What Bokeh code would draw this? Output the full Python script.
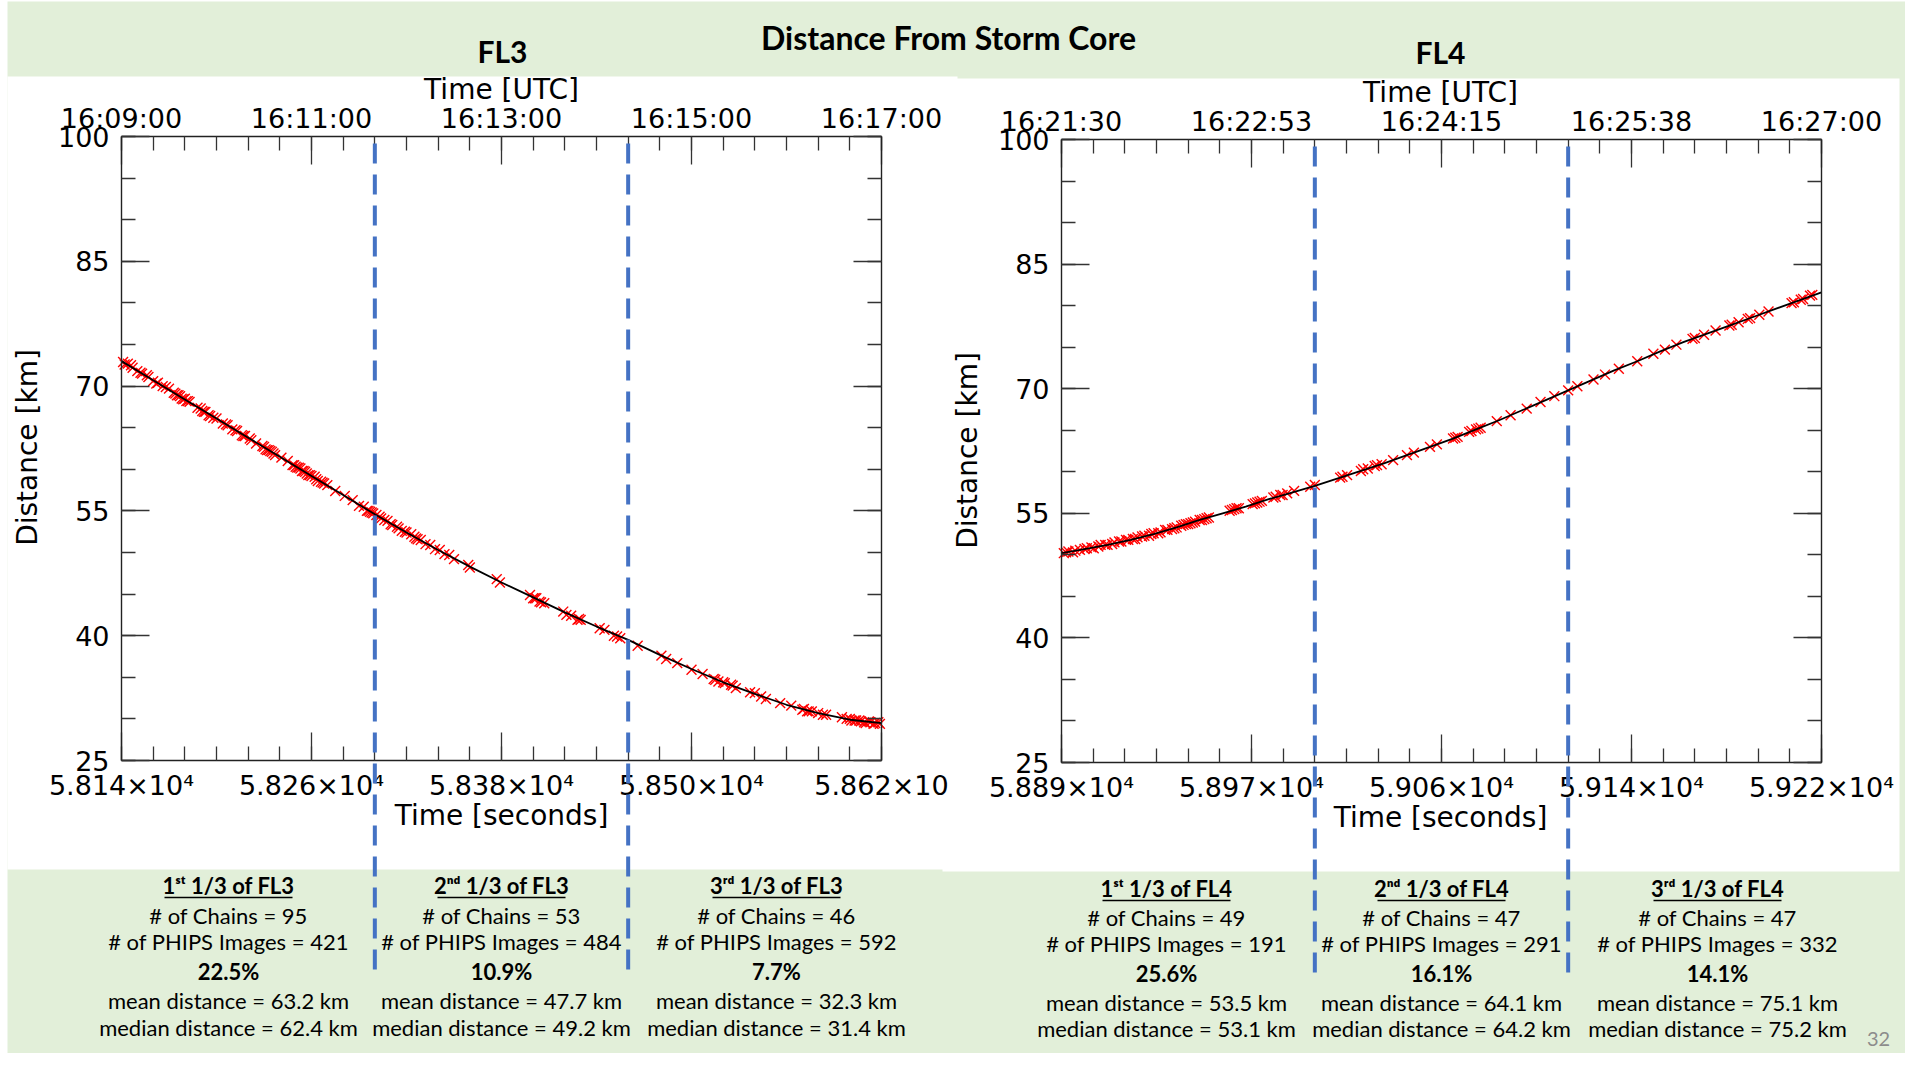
import numpy as np
from bokeh.plotting import figure
from bokeh.models import Range1d, LinearAxis, FixedTicker, CustomJSTickFormatter
from bokeh.core.properties import value
from bokeh.embed import file_html
from bokeh.resources import INLINE

# ------------------------------------------------------------------ data
# FL3 : distance from storm core, red markers (time [s], distance [km])
FL3_MARK_T = [58141, 58144, 58147, 58150, 58153, 58157, 58160, 58163, 58166, 58170,
              58173, 58175, 58177, 58179, 58181, 58183, 58188, 58191, 58193, 58195,
              58198, 58200, 58204, 58207, 58210, 58213, 58216, 58218, 58221, 58225,
              58229, 58231, 58233, 58235, 58237, 58241, 58245, 58248, 58250, 58252,
              58254, 58256, 58258, 58260, 58262, 58264, 58266, 58268, 58270, 58275,
              58281, 58286, 58290, 58293, 58295, 58297, 58299,
              58142, 58146, 58152, 58156, 58162, 58168, 58174, 58176, 58178, 58180,
              58182, 58190, 58192, 58196, 58206, 58212, 58217, 58222, 58230, 58232,
              58234, 58236, 58249, 58251, 58253, 58255, 58257, 58259, 58263, 58267,
              58296, 58298,
              58301, 58304, 58308, 58311, 58314, 58317, 58320, 58323, 58326, 58329,
              58332, 58335, 58338, 58341, 58344, 58347, 58350, 58359, 58360, 58377,
              58379, 58398, 58400, 58402, 58405, 58407, 58419, 58421, 58424, 58428,
              58430, 58442, 58445, 58451, 58453, 58455,
              58303, 58306, 58310, 58315, 58319, 58325, 58327, 58401, 58404, 58429,
              58466, 58481, 58484, 58491, 58500, 58507, 58514, 58517, 58521, 58525,
              58528, 58537, 58540, 58544, 58547, 58556, 58563, 58570, 58573, 58576,
              58580, 58583, 58585, 58595, 58598, 58601, 58604, 58607, 58610, 58613,
              58616, 58619,
              58515, 58520, 58526, 58571, 58574, 58600, 58603, 58606, 58609, 58612,
              58615, 58618]
FL3_MARK_D = [72.9, 72.7, 72.2, 71.8, 71.5, 71.1, 70.6, 70.4, 70.0, 69.7,
              69.2, 68.9, 68.8, 68.4, 68.2, 68.1, 67.4, 67.0, 66.9, 66.5,
              66.2, 66.1, 65.5, 65.3, 64.8, 64.6, 64.1, 64.0, 63.7, 63.1,
              62.8, 62.4, 62.3, 62.1, 61.7, 61.4, 61.0, 60.5, 60.3, 60.2,
              59.8, 59.7, 59.3, 59.2, 59.1, 58.6, 58.5, 58.3, 58.1, 57.4,
              56.8, 56.3, 55.6, 55.5, 55.0, 54.9, 54.7,
              72.6, 72.5, 71.6, 71.3, 70.3, 69.9, 69.1, 68.9, 68.5, 68.5,
              68.2, 67.3, 66.9, 66.4, 65.4, 64.7, 64.0, 63.5, 62.7, 62.3,
              62.2, 61.9, 60.5, 60.2, 60.1, 59.8, 59.5, 59.3, 58.8, 58.4,
              55.0, 54.8,
              54.5, 54.1, 53.8, 53.3, 53.1, 52.6, 52.4, 52.2, 51.7, 51.5,
              51.0, 50.9, 50.4, 50.3, 49.8, 49.7, 49.2, 48.5, 48.2, 46.8,
              46.4, 44.9, 44.5, 44.5, 44.0, 43.9, 42.9, 42.5, 42.4, 41.9,
              41.9, 40.9, 40.7, 40.0, 39.9, 39.7,
              54.3, 53.9, 53.4, 52.9, 52.5, 51.9, 51.6, 44.5, 44.1, 42.0,
              38.8, 37.6, 37.2, 36.7, 35.9, 35.4, 34.8, 34.5, 34.3, 34.1,
              33.7, 33.2, 33.1, 32.7, 32.4, 31.9, 31.6, 31.1, 30.9, 30.9,
              30.7, 30.5, 30.5, 30.2, 30.0, 29.8, 29.8, 29.7, 29.5, 29.6,
              29.5, 29.4,
              34.7, 34.4, 34.0, 31.2, 30.9, 30.0, 29.8, 29.8, 29.6, 29.7,
              29.4, 29.6]
# FL3 : fitted black curve
FL3_LINE_T = [58140, 58160, 58180, 58200, 58220, 58240, 58260, 58280, 58300, 58320,
              58340, 58360, 58380, 58400, 58420, 58440, 58460, 58480, 58500, 58520,
              58540, 58560, 58580, 58600, 58620]
FL3_LINE_D = [73.0, 70.7, 68.4, 66.1, 63.8, 61.5, 59.2, 56.9, 54.6, 52.4,
              50.3, 48.3, 46.4, 44.6, 42.8, 41.1, 39.5, 37.7, 36.0, 34.4,
              33.0, 31.7, 30.7, 29.9, 29.5]
FL3_SPLITS = [58300, 58460]
FL3_X_TICKS = [58140, 58260, 58380, 58500, 58620]
FL3_BOTTOM_LABELS = ["5.814×10⁴", "5.826×10⁴", "5.838×10⁴", "5.850×10⁴", "5.862×10"]
FL3_TOP_LABELS = ["16:09:00", "16:11:00", "16:13:00", "16:15:00", "16:17:00"]

# FL4
FL4_MARK_T = [58891, 58893, 58895, 58898, 58901, 58904, 58907, 58910, 58913, 58916,
              58918, 58921, 58923, 58925, 58928, 58930, 58933, 58935, 58938, 58940,
              58942, 58944, 58946, 58948, 58950, 58952, 58954, 58963, 58965, 58967,
              58973, 58975, 58977, 58982, 58985, 58988, 58991, 58998, 59000, 59011,
              59014, 59020, 59023, 59026, 59029, 59034, 59040, 59043, 59050, 59053,
              59060, 59062, 59067, 59070, 59072, 59079, 59085, 59092, 59098, 59104,
              59110, 59114, 59121, 59126, 59132, 59140, 59147, 59152, 59157, 59164,
              59169, 59174, 59180, 59184, 59188, 59193, 59197, 59207, 59211, 59216,
              58892, 58896, 58900, 58903, 58906, 58909, 58912, 58915, 58919, 58922,
              58926, 58929, 58932, 58936, 58939, 58943, 58945, 58947, 58951, 58953,
              58964, 58966, 58974, 58976, 58983, 58986, 59012, 59021, 59027, 59061,
              59068, 59071, 59165, 59181, 59189, 59208, 59212, 59215]
FL4_MARK_D = [50.2, 50.4, 50.3, 50.6, 50.8, 50.8, 51.2, 51.2, 51.5, 51.6,
              51.8, 51.9, 52.1, 52.2, 52.3, 52.6, 52.7, 53.0, 53.1, 53.3,
              53.5, 53.7, 53.8, 54.0, 54.2, 54.3, 54.5, 55.3, 55.5, 55.6,
              56.1, 56.3, 56.5, 56.9, 57.2, 57.4, 57.7, 58.2, 58.4, 59.3,
              59.6, 60.1, 60.4, 60.7, 60.9, 61.4, 62.0, 62.3, 63.0, 63.3,
              64.0, 64.2, 64.8, 65.1, 65.3, 66.1, 66.8, 67.6, 68.4, 69.1,
              69.8, 70.3, 71.1, 71.7, 72.4, 73.3, 74.2, 74.7, 75.3, 76.0,
              76.5, 77.0, 77.6, 78.0, 78.4, 78.9, 79.3, 80.3, 80.7, 81.3,
              50.3, 50.5, 50.7, 50.9, 51.0, 51.2, 51.3, 51.6, 51.8, 51.9,
              52.3, 52.5, 52.6, 53.0, 53.2, 53.6, 53.7, 53.9, 54.2, 54.4,
              55.4, 55.6, 56.2, 56.4, 57.0, 57.2, 59.4, 60.3, 60.8, 64.1,
              64.9, 65.2, 76.1, 77.7, 78.5, 80.4, 80.8, 81.2]
FL4_LINE_T = [58890, 58900, 58910, 58920, 58930, 58940, 58950, 58960, 58970, 58980,
              58990, 59000, 59010, 59020, 59030, 59040, 59050, 59060, 59070, 59080,
              59090, 59100, 59110, 59120, 59130, 59140, 59150, 59160, 59170, 59180,
              59190, 59200, 59210, 59220]
FL4_LINE_D = [50.2, 50.7, 51.2, 51.8, 52.5, 53.3, 54.2, 55.0, 55.8, 56.7,
              57.5, 58.3, 59.2, 60.1, 61.0, 62.0, 63.0, 64.0, 65.1, 66.2,
              67.4, 68.6, 69.8, 71.0, 72.2, 73.3, 74.5, 75.6, 76.6, 77.6,
              78.6, 79.6, 80.6, 81.6]
FL4_SPLITS = [59000, 59110]
FL4_X_TICKS = [58890, 58972.5, 59055, 59137.5, 59220]
FL4_BOTTOM_LABELS = ["5.889×10⁴", "5.897×10⁴", "5.906×10⁴", "5.914×10⁴", "5.922×10⁴"]
FL4_TOP_LABELS = ["16:21:30", "16:22:53", "16:24:15", "16:25:38", "16:27:00"]

Y_TICKS = [25, 40, 55, 70, 85, 100]
Y_LABELS = ["25", "40", "55", "70", "85", "100"]

# footer statistics
FL3_HEADINGS = ["1ˢᵗ 1/3 of FL3", "2ⁿᵈ 1/3 of FL3", "3ʳᵈ 1/3 of FL3"]
FL3_CHAINS = [95, 53, 46]
FL3_IMAGES = [421, 484, 592]
FL3_PCT = ["22.5", "10.9", "7.7"]
FL3_MEAN = ["63.2", "47.7", "32.3"]
FL3_MEDIAN = ["62.4", "49.2", "31.4"]
FL4_HEADINGS = ["1ˢᵗ 1/3 of FL4", "2ⁿᵈ 1/3 of FL4", "3ʳᵈ 1/3 of FL4"]
FL4_CHAINS = [49, 47, 47]
FL4_IMAGES = [191, 291, 332]
FL4_PCT = ["25.6", "16.1", "14.1"]
FL4_MEAN = ["53.5", "64.1", "75.1"]
FL4_MEDIAN = ["53.1", "64.2", "75.2"]

# ------------------------------------------------------------------ layout
W, H = 1905, 1053
PX0, PX1 = 0, W          # reference pixel span of the canvas
PY0, PY1 = 0, H
GREEN = "#E2EFD9"
BLUE = "#4472C4"
PLOT_FONT = "DejaVu Sans"
SLIDE_FONT = "Lato"


def lin(d0, p0, d1, p1, pa, pb):
    s = (d1 - d0) / (p1 - p0)
    return d0 + (pa - p0) * s, d0 + (pb - p0) * s


# frame pixel boxes of the two plots (reference coordinates)
FL3_BOX = dict(l=121, r=881, t=136, b=760)
FL4_BOX = dict(l=1061, r=1821, t=139, b=762)
FL3_XLIM = (58140, 58620)
FL4_XLIM = (58890, 59220)
YLIM = (25, 100)

x3 = Range1d(*lin(FL3_XLIM[0], FL3_BOX["l"], FL3_XLIM[1], FL3_BOX["r"], PX0, PX1))
y3 = Range1d(*lin(YLIM[1], FL3_BOX["t"], YLIM[0], FL3_BOX["b"], PY1, PY0))
x4 = Range1d(*lin(FL4_XLIM[0], FL4_BOX["l"], FL4_XLIM[1], FL4_BOX["r"], PX0, PX1))
y4 = Range1d(*lin(YLIM[1], FL4_BOX["t"], YLIM[0], FL4_BOX["b"], PY1, PY0))

p = figure(width=W, height=H, x_range=x3, y_range=y3,
           x_axis_type=None, y_axis_type=None,
           toolbar_location=None, output_backend="svg",
           min_border=0, min_border_left=0, min_border_right=0,
           min_border_top=0, min_border_bottom=0,
           outline_line_color=None, background_fill_color="white",
           border_fill_color="white")
p.extra_x_ranges = {"px": Range1d(PX0, PX1), "x4": x4}
p.extra_y_ranges = {"py": Range1d(PY1, PY0), "y4": y4}

# backgrounds: slide, two white plot images
p.quad(left=[7], right=[1906], top=[1], bottom=[1068], x_range_name="px", y_range_name="py",
       fill_color=GREEN, line_color=None)
p.quad(left=[7, 942], right=[957, 1899], top=[76, 78], bottom=[869, 871],
       x_range_name="px", y_range_name="py", fill_color="white", line_color=None)


def txt(x, y, s, size, bold=False, color="black", font=SLIDE_FONT, angle=0.0):
    p.text(x=[x], y=[y], text=[s], x_range_name="px", y_range_name="py",
           text_font=value(font), text_font_size=value(f"{size}px"),
           text_font_style="bold" if bold else "normal", text_color=color,
           text_align="center", text_baseline="middle", angle=angle)


def fmt(ticks, labels):
    return CustomJSTickFormatter(args=dict(tv=list(ticks), lab=list(labels)), code="""
        let b = 0;
        for (let i = 0; i < tv.length; i++) {
            if (Math.abs(tv[i] - tick) < Math.abs(tv[b] - tick)) b = i;
        }
        return lab[b];
    """)


def axis(side, xr, yr, loc, bounds, ticks, minor, labels, standoff):
    ax = LinearAxis(x_range_name=xr, y_range_name=yr, fixed_location=loc, bounds=bounds,
                    ticker=FixedTicker(ticks=list(ticks), minor_ticks=list(minor)),
                    major_tick_in=28, major_tick_out=0, minor_tick_in=14, minor_tick_out=0,
                    axis_line_color="#222222", axis_line_width=1.4,
                    major_tick_line_color="#333333", major_tick_line_width=1.3,
                    minor_tick_line_color="#333333", minor_tick_line_width=1.3,
                    major_label_standoff=standoff,
                    major_label_text_font=PLOT_FONT,
                    major_label_text_font_size="27px",
                    major_label_text_color="black")
    if labels is None:
        ax.major_label_text_color = None
    else:
        ax.formatter = fmt(ticks, labels)
    p.add_layout(ax, side)


def panel(xr, yr, xlim, xticks, top_labels, bottom_labels, box,
          mark_t, mark_d, line_t, line_d, splits):
    xminor = np.linspace(xlim[0], xlim[1], 25)
    yminor = np.arange(YLIM[0], YLIM[1] + 1, 5)
    axis("below", xr, yr, YLIM[0], xlim, xticks, xminor, bottom_labels, 9)
    axis("above", xr, yr, YLIM[1], xlim, xticks, xminor, top_labels, 3)
    axis("left", xr, yr, xlim[0], YLIM, Y_TICKS, yminor, Y_LABELS, 12)
    axis("right", xr, yr, xlim[1], YLIM, Y_TICKS, yminor, None, 12)
    p.scatter(mark_t, mark_d, marker="x", size=14, line_color="red", line_width=1.4,
              x_range_name=xr, y_range_name=yr)
    p.line(line_t, line_d, line_color="black", line_width=1.8,
           x_range_name=xr, y_range_name=yr)
    r = p.segment(x0=splits, x1=splits, y0=[box["t"] + 7] * len(splits), y1=[972] * len(splits),
                  x_range_name=xr, y_range_name="py",
                  line_color=BLUE, line_width=4, line_dash="20 11")
    r.level = "overlay"


panel("default", "default", FL3_XLIM, FL3_X_TICKS, FL3_TOP_LABELS, FL3_BOTTOM_LABELS, FL3_BOX,
      FL3_MARK_T, FL3_MARK_D, FL3_LINE_T, FL3_LINE_D, FL3_SPLITS)
panel("x4", "y4", FL4_XLIM, FL4_X_TICKS, FL4_TOP_LABELS, FL4_BOTTOM_LABELS, FL4_BOX,
      FL4_MARK_T, FL4_MARK_D, FL4_LINE_T, FL4_LINE_D, FL4_SPLITS)

# plot titles / axis titles
txt(948, 37, "Distance From Storm Core", 32, bold=True)
txt(502, 50, "FL3", 30, bold=True)
txt(1440, 51, "FL4", 30, bold=True)
txt(501, 89, "Time [UTC]", 28, font=PLOT_FONT)
txt(1440, 92, "Time [UTC]", 28, font=PLOT_FONT)
txt(501, 815, "Time [seconds]", 28, font=PLOT_FONT)
txt(1440, 817, "Time [seconds]", 28, font=PLOT_FONT)
txt(27, 447, "Distance [km]", 28, font=PLOT_FONT, angle=np.pi / 2)
txt(967, 450, "Distance [km]", 28, font=PLOT_FONT, angle=np.pi / 2)

# footer statistics
def footer(cols, ys, heads, chains, images, pct, mean, median):
    for i, cx in enumerate(cols):
        txt(cx, ys[0], heads[i], 22, bold=True)
        p.segment(x0=[cx - 64], x1=[cx + 64], y0=[ys[0] + 12], y1=[ys[0] + 12],
                  x_range_name="px", y_range_name="py", line_color="black", line_width=1.6)
        txt(cx, ys[1], f"# of Chains = {chains[i]}", 22)
        txt(cx, ys[2], f"# of PHIPS Images = {images[i]}", 22)
        txt(cx, ys[3], f"{pct[i]}%", 22, bold=True)
        txt(cx, ys[4], f"mean distance = {mean[i]} km", 22)
        txt(cx, ys[5], f"median distance = {median[i]} km", 22)


footer([228, 501, 776], [885, 915, 941, 971, 1000, 1027],
       FL3_HEADINGS, FL3_CHAINS, FL3_IMAGES, FL3_PCT, FL3_MEAN, FL3_MEDIAN)
footer([1166, 1441, 1717], [888, 917, 943, 973, 1002, 1028],
       FL4_HEADINGS, FL4_CHAINS, FL4_IMAGES, FL4_PCT, FL4_MEAN, FL4_MEDIAN)

txt(1878, 1038, "32", 20, color="#8C8C8C")

open("out.html", "w").write(file_html(p, INLINE))
